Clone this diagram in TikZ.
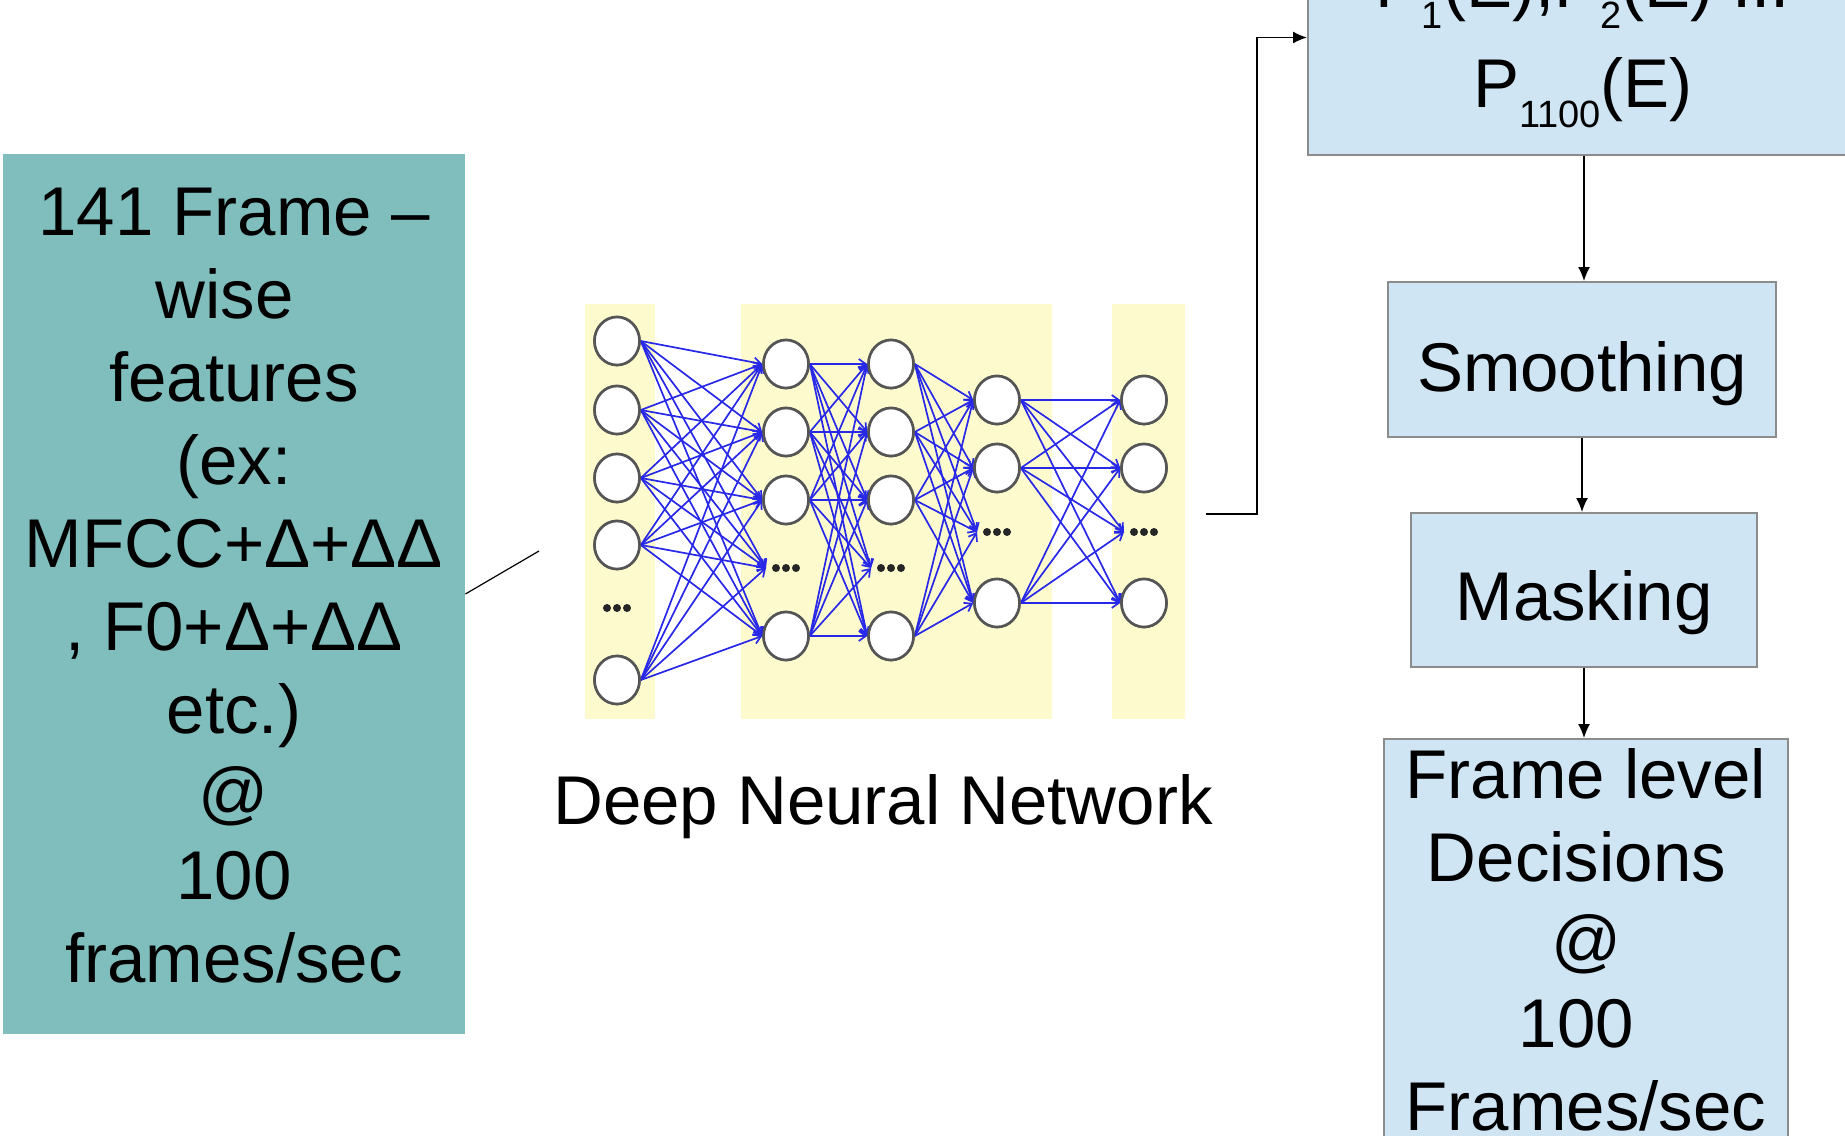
\documentclass[tikz,border=0pt]{standalone}
\usepackage{fontspec}
\setmainfont{Liberation Sans}
\usetikzlibrary{arrows.meta,calc,shapes.geometric}

\definecolor{featfill}{RGB}{128,190,190}
\definecolor{stepfill}{RGB}{208,229,243}
\definecolor{stepedge}{RGB}{140,140,140}
\definecolor{bandfill}{RGB}{253,251,205}
\definecolor{wireblue}{RGB}{40,40,232}
\definecolor{ringgray}{RGB}{85,85,85}

\newcommand\bigtext{\fontsize{34.5}{41.5}\selectfont}
\newcommand\lowsub[1]{\raisebox{-10pt}{\fontsize{19}{19}\selectfont #1}}

\tikzset{
  featbox/.style={rectangle, fill=featfill, inner sep=0pt},
  stepbox/.style={rectangle, fill=stepfill, draw=stepedge, line width=1pt, inner sep=0pt},
  plain/.style={inner sep=0pt, align=center, font=\bigtext},
  flow/.style={draw=black, line width=0.75pt, -{Latex[length=7pt,width=6pt]}},
  link/.style={draw=black, line width=0.6pt},
  neuron/.style={ellipse, draw=ringgray, line width=1.3pt, fill=white, minimum width=22.5pt, minimum height=24pt, inner sep=0pt},
  wire/.style={draw=wireblue, line width=0.85pt, -{Straight Barb[length=3.5pt,width=5pt]}},
  band/.style={fill=bandfill, draw=none}
}

\begin{document}
\begin{tikzpicture}[x=0.5pt, y=-0.5pt]
\useasboundingbox (0,0) rectangle (1845,1135);
\fill[white] (0,0) rectangle (1845,1135);
\clip (0,0) rectangle (1845,1135);

% input features
\node[featbox, minimum width=231pt, minimum height=440pt] (feat) at (234,594) {};
\node[plain] (feattext) at (234,586)
  {141 Frame –\\wise~\mbox{}\\features\\(ex:\\MFCC+Δ+ΔΔ\\, F0+Δ+ΔΔ\\etc.)\\@\\100\\frames/sec};

% deep neural network: layer bands
\fill[band] (585,304) rectangle (655,719);
\fill[band] (741,304) rectangle (1052,719);
\fill[band] (1112,304) rectangle (1185,719);

% neurons (placed first so the weights can refer to them)
\foreach \y [count=\i] in {341,410,478,545,680}
  \node[neuron] (a\i) at (617,\y) {};
\foreach \y [count=\i] in {364,432,500,636}
  \node[neuron] (b\i) at (786,\y) {};
\foreach \y [count=\i] in {364,432,500,636}
  \node[neuron] (c\i) at (891,\y) {};
\foreach \y [count=\i] in {400,468,603}
  \node[neuron] (d\i) at (997,\y) {};
\foreach \y [count=\i] in {400,468,603}
  \node[neuron] (e\i) at (1144,\y) {};

% ellipsis markers for the omitted units
\foreach \x/\y in {617/608, 786/568, 891/568, 997/532, 1144/532}
  \foreach \dx in {-10,0,10}
    \fill[black!85] (\x+\dx,\y) circle (2pt);
\coordinate (bd) at (766,568);
\coordinate (cd) at (871,568);
\coordinate (dd) at (977,532);
\coordinate (ed) at (1124,532);

% fully connected weights
\foreach \i in {1,...,5}{
  \foreach \j in {1,...,4} \draw[wire] (a\i.east) -- (b\j.west);
  \draw[wire] (a\i.east) -- (bd);
}
\foreach \i in {1,...,4}{
  \foreach \j in {1,...,4} \draw[wire] (b\i.east) -- (c\j.west);
  \draw[wire] (b\i.east) -- (cd);
}
\foreach \i in {1,...,4}{
  \foreach \j in {1,...,3} \draw[wire] (c\i.east) -- (d\j.west);
  \draw[wire] (c\i.east) -- (dd);
}
\foreach \i in {1,...,3}{
  \foreach \j in {1,...,3} \draw[wire] (d\i.east) -- (e\j.west);
  \draw[wire] (d\i.east) -- (ed);
}

% redraw neurons above the weights
\foreach \y [count=\i] in {341,410,478,545,680}
  \node[neuron] (a\i) at (617,\y) {};
\foreach \y [count=\i] in {364,432,500,636}
  \node[neuron] (b\i) at (786,\y) {};
\foreach \y [count=\i] in {364,432,500,636}
  \node[neuron] (c\i) at (891,\y) {};
\foreach \y [count=\i] in {400,468,603}
  \node[neuron] (d\i) at (997,\y) {};
\foreach \y [count=\i] in {400,468,603}
  \node[neuron] (e\i) at (1144,\y) {};

\node[plain, anchor=base] (dnnlabel) at (883,824) {Deep Neural Network};

\coordinate (netin) at (539,551);
\coordinate (netout) at (1206,514);

% posterior probabilities
\node[stepbox, minimum width=276pt, minimum height=117.5pt] (pbox) at (1584,37.5) {};
\node[plain, anchor=base] (pline1) at (1583,8) {P\lowsub{1}(E),P\lowsub{2}(E) ...};
\node[plain, anchor=base] (pline2) at (1583,107) {P\lowsub{1100}(E)};

% post-processing chain
\node[stepbox, minimum width=194pt, minimum height=77.5pt] (smooth) at (1582,359.5) {};
\node[plain, anchor=base] (smoothtext) at (1582,391) {Smoothing};
\node[stepbox, minimum width=173pt, minimum height=77pt] (mask) at (1584,590) {};
\node[plain, anchor=base] (masktext) at (1584,620) {Masking};
\node[stepbox, minimum width=202pt, minimum height=215.5pt] (dec) at (1586,954.5) {};
\node[plain, anchor=north] (dectext) at (1586,748)
  {Frame level\\Decisions~\mbox{}\\@\\100~\mbox{}\\Frames/sec};

% connectors
\draw[link] (feat.east) -- (netin);
\draw[flow] (netout) -- ++(51,0) |- (pbox.west);
\draw[flow] (pbox.south) -- (pbox.south |- smooth.north);
\draw[flow] (smooth.south) -- (smooth.south |- mask.north);
\draw[flow] (mask.south) -- (mask.south |- dec.north);
\end{tikzpicture}
\end{document}
